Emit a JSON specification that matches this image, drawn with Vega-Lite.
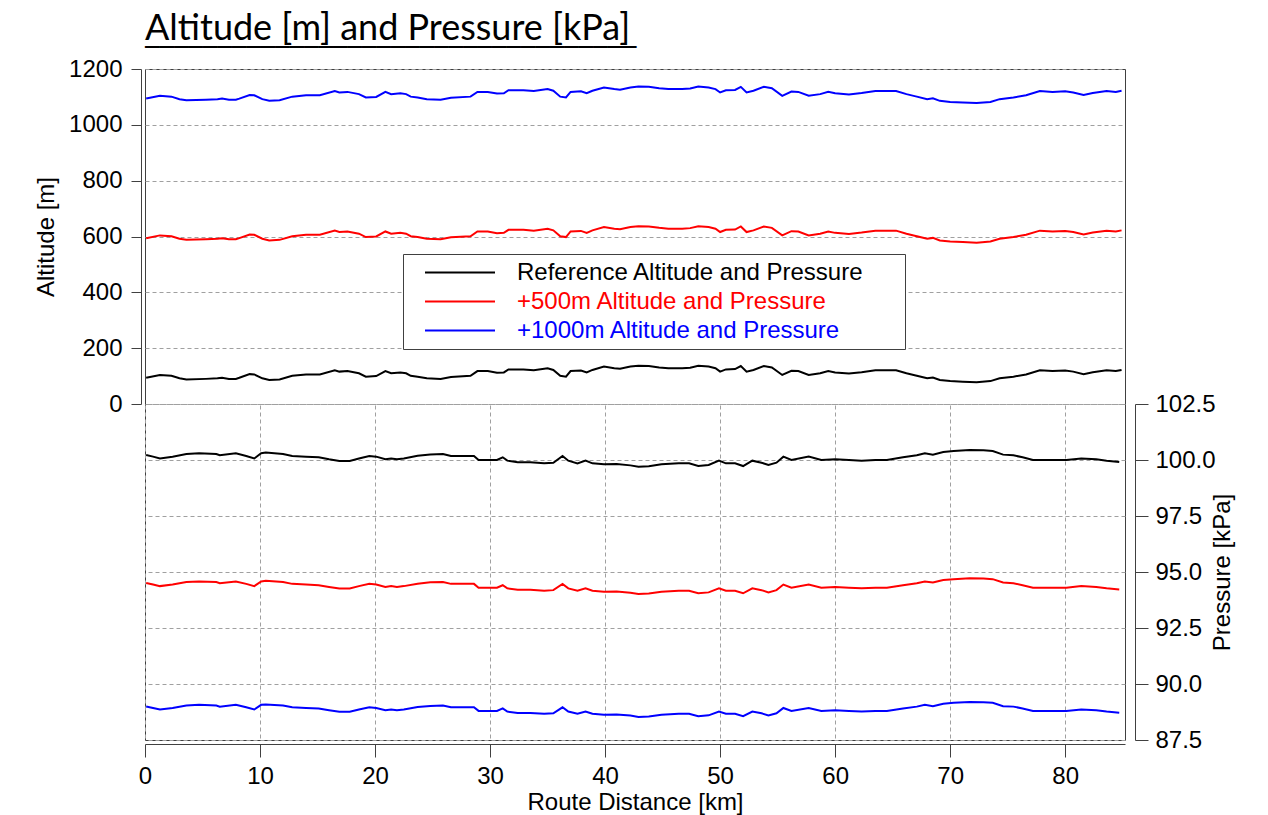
{
  "$schema": "https://vega.github.io/schema/vega-lite/v6.json",
  "autosize": {"type": "none"},
  "padding": {"left": 145, "top": 69, "right": 143, "bottom": 75},
  "width": 980,
  "height": 671,
  "background": "white",
  "title": {
    "text": "Altitude [m] and Pressure [kPa]",
    "subtitle": "──────────────────────────────────",
    "anchor": "start",
    "frame": "group",
    "font": "Lato",
    "fontSize": 36,
    "fontWeight": "normal",
    "color": "#000000",
    "subtitleFont": "DejaVu Sans Mono",
    "subtitleFontSize": 24,
    "subtitleColor": "#000000",
    "subtitlePadding": -21,
    "baseline": "alphabetic",
    "offset": 18,
    "dy": 50
  },
  "datasets": {
    "alt": [
      {"x":0.1,"R":94,"A":594,"B":1094},{"x":1.3,"R":104,"A":604,"B":1104},{"x":2.3,"R":101,"A":601,"B":1101},
      {"x":3.0,"R":92,"A":592,"B":1092},{"x":3.6,"R":88,"A":588,"B":1088},{"x":5.3,"R":90,"A":590,"B":1090},
      {"x":6.3,"R":92,"A":592,"B":1092},{"x":6.7,"R":94,"A":594,"B":1094},{"x":7.3,"R":90,"A":590,"B":1090},
      {"x":7.9,"R":90,"A":590,"B":1090},{"x":8.2,"R":94,"A":594,"B":1094},{"x":9.1,"R":107,"A":607,"B":1107},
      {"x":9.5,"R":106,"A":606,"B":1106},{"x":10.2,"R":92,"A":592,"B":1092},{"x":10.8,"R":86,"A":586,"B":1086},
      {"x":11.7,"R":88,"A":588,"B":1088},{"x":12.8,"R":101,"A":601,"B":1101},{"x":14.0,"R":106,"A":606,"B":1106},
      {"x":15.2,"R":106,"A":606,"B":1106},{"x":16.5,"R":121,"A":621,"B":1121},{"x":16.9,"R":116,"A":616,"B":1116},
      {"x":17.6,"R":118,"A":618,"B":1118},{"x":18.6,"R":110,"A":610,"B":1110},{"x":19.2,"R":98,"A":598,"B":1098},
      {"x":20.1,"R":100,"A":600,"B":1100},{"x":20.9,"R":118,"A":618,"B":1118},{"x":21.4,"R":110,"A":610,"B":1110},
      {"x":22.2,"R":113,"A":613,"B":1113},{"x":22.7,"R":110,"A":610,"B":1110},{"x":23.1,"R":101,"A":601,"B":1101},
      {"x":23.7,"R":98,"A":598,"B":1098},{"x":24.5,"R":92,"A":592,"B":1092},{"x":25.7,"R":90,"A":590,"B":1090},
      {"x":26.6,"R":97,"A":597,"B":1097},{"x":28.3,"R":101,"A":601,"B":1101},{"x":28.9,"R":118,"A":618,"B":1118},
      {"x":29.8,"R":118,"A":618,"B":1118},{"x":30.6,"R":112,"A":612,"B":1112},{"x":31.2,"R":113,"A":613,"B":1113},
      {"x":31.6,"R":124,"A":624,"B":1124},{"x":32.9,"R":124,"A":624,"B":1124},{"x":33.8,"R":121,"A":621,"B":1121},
      {"x":35.0,"R":128,"A":628,"B":1128},{"x":35.5,"R":122,"A":622,"B":1122},{"x":36.1,"R":101,"A":601,"B":1101},
      {"x":36.6,"R":98,"A":598,"B":1098},{"x":37.0,"R":118,"A":618,"B":1118},{"x":37.9,"R":120,"A":620,"B":1120},
      {"x":38.4,"R":113,"A":613,"B":1113},{"x":38.9,"R":122,"A":622,"B":1122},{"x":39.9,"R":134,"A":634,"B":1134},
      {"x":40.8,"R":128,"A":628,"B":1128},{"x":41.3,"R":126,"A":626,"B":1126},{"x":42.2,"R":134,"A":634,"B":1134},
      {"x":42.9,"R":137,"A":637,"B":1137},{"x":43.8,"R":136,"A":636,"B":1136},{"x":44.7,"R":131,"A":631,"B":1131},
      {"x":45.5,"R":128,"A":628,"B":1128},{"x":46.7,"R":128,"A":628,"B":1128},{"x":47.4,"R":130,"A":630,"B":1130},
      {"x":48.1,"R":137,"A":637,"B":1137},{"x":49.0,"R":134,"A":634,"B":1134},{"x":49.6,"R":128,"A":628,"B":1128},
      {"x":50.0,"R":116,"A":616,"B":1116},{"x":50.5,"R":124,"A":624,"B":1124},{"x":51.3,"R":125,"A":625,"B":1125},
      {"x":51.8,"R":136,"A":636,"B":1136},{"x":52.3,"R":116,"A":616,"B":1116},{"x":52.9,"R":122,"A":622,"B":1122},
      {"x":53.8,"R":136,"A":636,"B":1136},{"x":54.5,"R":131,"A":631,"B":1131},{"x":55.4,"R":104,"A":604,"B":1104},
      {"x":56.2,"R":119,"A":619,"B":1119},{"x":56.8,"R":118,"A":618,"B":1118},{"x":57.7,"R":104,"A":604,"B":1104},
      {"x":58.7,"R":110,"A":610,"B":1110},{"x":59.4,"R":118,"A":618,"B":1118},{"x":60.0,"R":113,"A":613,"B":1113},
      {"x":61.2,"R":109,"A":609,"B":1109},{"x":62.3,"R":114,"A":614,"B":1114},{"x":63.5,"R":121,"A":621,"B":1121},
      {"x":65.3,"R":121,"A":621,"B":1121},{"x":66.2,"R":110,"A":610,"B":1110},{"x":67.1,"R":101,"A":601,"B":1101},
      {"x":68.0,"R":92,"A":592,"B":1092},{"x":68.5,"R":95,"A":595,"B":1095},{"x":69.1,"R":86,"A":586,"B":1086},
      {"x":70.0,"R":82,"A":582,"B":1082},{"x":71.1,"R":80,"A":580,"B":1080},{"x":72.3,"R":78,"A":578,"B":1078},
      {"x":73.5,"R":82,"A":582,"B":1082},{"x":74.3,"R":92,"A":592,"B":1092},{"x":75.5,"R":98,"A":598,"B":1098},
      {"x":76.6,"R":106,"A":606,"B":1106},{"x":77.8,"R":121,"A":621,"B":1121},{"x":78.9,"R":118,"A":618,"B":1118},
      {"x":80.0,"R":120,"A":620,"B":1120},{"x":80.7,"R":116,"A":616,"B":1116},{"x":81.6,"R":107,"A":607,"B":1107},
      {"x":82.4,"R":114,"A":614,"B":1114},{"x":83.6,"R":121,"A":621,"B":1121},{"x":84.4,"R":118,"A":618,"B":1118},
      {"x":84.9,"R":122,"A":622,"B":1122}
    ],
    "pres": [
      {"x":0.1,"R":100.22,"A":94.51,"B":89.00},{"x":0.7,"R":100.15,"A":94.44,"B":88.93},{"x":1.3,"R":100.07,"A":94.37,"B":88.86},
      {"x":2.4,"R":100.15,"A":94.44,"B":88.93},{"x":3.6,"R":100.27,"A":94.55,"B":89.04},{"x":4.7,"R":100.3,"A":94.58,"B":89.07},
      {"x":6.2,"R":100.27,"A":94.55,"B":89.04},{"x":6.5,"R":100.21,"A":94.50,"B":88.99},{"x":7.9,"R":100.3,"A":94.58,"B":89.07},
      {"x":8.8,"R":100.18,"A":94.47,"B":88.96},{"x":9.5,"R":100.07,"A":94.37,"B":88.86},{"x":10.1,"R":100.3,"A":94.58,"B":89.07},
      {"x":10.5,"R":100.33,"A":94.61,"B":89.09},{"x":12.0,"R":100.27,"A":94.55,"B":89.04},{"x":12.8,"R":100.18,"A":94.47,"B":88.96},
      {"x":14.0,"R":100.15,"A":94.44,"B":88.93},{"x":15.1,"R":100.12,"A":94.41,"B":88.91},{"x":16.0,"R":100.03,"A":94.33,"B":88.83},
      {"x":16.9,"R":99.96,"A":94.26,"B":88.76},{"x":17.8,"R":99.96,"A":94.26,"B":88.76},{"x":18.6,"R":100.07,"A":94.37,"B":88.86},
      {"x":19.5,"R":100.18,"A":94.47,"B":88.96},{"x":20.1,"R":100.15,"A":94.44,"B":88.93},{"x":20.9,"R":100.03,"A":94.33,"B":88.83},
      {"x":21.4,"R":100.07,"A":94.37,"B":88.86},{"x":21.9,"R":100.03,"A":94.33,"B":88.83},{"x":22.5,"R":100.07,"A":94.37,"B":88.86},
      {"x":23.7,"R":100.19,"A":94.48,"B":88.97},{"x":24.8,"R":100.25,"A":94.54,"B":89.02},{"x":25.9,"R":100.27,"A":94.55,"B":89.04},
      {"x":26.6,"R":100.18,"A":94.47,"B":88.96},{"x":28.6,"R":100.18,"A":94.47,"B":88.96},{"x":29.0,"R":100.0,"A":94.30,"B":88.80},
      {"x":30.6,"R":100.0,"A":94.30,"B":88.80},{"x":31.1,"R":100.12,"A":94.41,"B":88.91},{"x":31.5,"R":99.97,"A":94.27,"B":88.77},
      {"x":32.4,"R":99.9,"A":94.21,"B":88.71},{"x":33.5,"R":99.9,"A":94.21,"B":88.71},{"x":34.7,"R":99.85,"A":94.16,"B":88.67},
      {"x":35.5,"R":99.88,"A":94.19,"B":88.69},{"x":36.3,"R":100.18,"A":94.47,"B":88.96},{"x":36.8,"R":99.97,"A":94.27,"B":88.77},
      {"x":37.6,"R":99.85,"A":94.16,"B":88.67},{"x":38.3,"R":99.97,"A":94.27,"B":88.77},{"x":38.9,"R":99.85,"A":94.16,"B":88.67},
      {"x":39.9,"R":99.81,"A":94.12,"B":88.63},{"x":41.0,"R":99.82,"A":94.13,"B":88.64},{"x":42.2,"R":99.76,"A":94.07,"B":88.59},
      {"x":42.9,"R":99.7,"A":94.02,"B":88.53},{"x":43.8,"R":99.72,"A":94.04,"B":88.55},{"x":44.9,"R":99.81,"A":94.12,"B":88.63},
      {"x":46.4,"R":99.85,"A":94.16,"B":88.67},{"x":47.3,"R":99.85,"A":94.16,"B":88.67},{"x":48.1,"R":99.73,"A":94.05,"B":88.56},
      {"x":49.0,"R":99.78,"A":94.09,"B":88.60},{"x":49.9,"R":99.97,"A":94.27,"B":88.77},{"x":50.5,"R":99.85,"A":94.16,"B":88.67},
      {"x":51.3,"R":99.85,"A":94.16,"B":88.67},{"x":52.0,"R":99.73,"A":94.05,"B":88.56},{"x":52.8,"R":99.97,"A":94.27,"B":88.77},
      {"x":53.6,"R":99.88,"A":94.19,"B":88.69},{"x":54.2,"R":99.78,"A":94.09,"B":88.60},{"x":54.9,"R":99.88,"A":94.19,"B":88.69},
      {"x":55.5,"R":100.15,"A":94.44,"B":88.93},{"x":56.2,"R":100.0,"A":94.30,"B":88.80},{"x":57.7,"R":100.15,"A":94.44,"B":88.93},
      {"x":58.8,"R":100.0,"A":94.30,"B":88.80},{"x":60.0,"R":100.03,"A":94.33,"B":88.83},{"x":61.2,"R":100.0,"A":94.30,"B":88.80},
      {"x":62.3,"R":99.97,"A":94.27,"B":88.77},{"x":63.5,"R":100.0,"A":94.30,"B":88.80},{"x":64.5,"R":100.0,"A":94.30,"B":88.80},
      {"x":65.9,"R":100.12,"A":94.41,"B":88.91},{"x":67.1,"R":100.21,"A":94.50,"B":88.99},{"x":67.8,"R":100.3,"A":94.58,"B":89.07},
      {"x":68.5,"R":100.24,"A":94.53,"B":89.01},{"x":69.4,"R":100.36,"A":94.64,"B":89.12},{"x":70.3,"R":100.4,"A":94.68,"B":89.16},
      {"x":71.7,"R":100.45,"A":94.72,"B":89.20},{"x":72.9,"R":100.43,"A":94.71,"B":89.18},{"x":73.7,"R":100.4,"A":94.68,"B":89.16},
      {"x":74.6,"R":100.24,"A":94.53,"B":89.01},{"x":75.5,"R":100.21,"A":94.50,"B":88.99},{"x":76.3,"R":100.12,"A":94.41,"B":88.91},
      {"x":77.2,"R":100.0,"A":94.30,"B":88.80},{"x":78.7,"R":100.0,"A":94.30,"B":88.80},{"x":80.1,"R":100.0,"A":94.30,"B":88.80},
      {"x":81.4,"R":100.07,"A":94.37,"B":88.86},{"x":82.7,"R":100.03,"A":94.33,"B":88.83},{"x":83.6,"R":99.97,"A":94.27,"B":88.77},
      {"x":84.7,"R":99.91,"A":94.22,"B":88.72}
    ]
  },
  "layer": [
    {
      "data": {"name": "alt"},
      "transform": [{"fold": ["R", "A", "B"], "as": ["s", "v"]}],
      "mark": {"type": "line", "strokeWidth": 2},
      "encoding": {
        "x": {
          "field": "x", "type": "quantitative",
          "scale": {"domain": [0, 85.2], "nice": false, "zero": false},
          "axis": {
            "values": [0, 10, 20, 30, 40, 50, 60, 70, 80],
            "title": "Route Distance [km]",
            "offset": 4, "tickSize": 13, "labelPadding": 7, "titlePadding": 2,
            "grid": true
          }
        },
        "y": {
          "field": "v", "type": "quantitative",
          "scale": {"domain": [0, 1200], "range": [335, 0], "nice": false, "zero": false},
          "axis": {
            "orient": "left",
            "values": [0, 200, 400, 600, 800, 1000, 1200],
            "format": "d",
            "title": "Altitude [m]",
            "offset": 4, "tickSize": 10, "labelPadding": 9, "titlePadding": 10,
            "grid": true
          }
        },
        "color": {
          "field": "s", "type": "nominal",
          "scale": {"domain": ["R", "A", "B"], "range": ["#000000", "#ff0000", "#0000ff"]},
          "legend": {
            "orient": "none",
            "legendX": 258,
            "legendY": 185,
            "title": null,
            "labelExpr": "datum.value == 'R' ? 'Reference Altitude and Pressure\u2800\u2800' : datum.value == 'A' ? '+500m Altitude and Pressure' : '+1000m Altitude and Pressure'",
            "fillColor": "#ffffff",
            "strokeColor": "#404040",
            "padding": 5,
            "symbolType": "stroke",
            "symbolSize": 4900,
            "symbolStrokeWidth": 2,
            "symbolOffset": 16,
            "clipHeight": 27,
            "rowPadding": 2,
            "labelOffset": 21,
            "labelFont": "Liberation Sans",
            "labelFontSize": 24,
            "labelLimit": 0,
            "encode": {"labels": {"update": {"fill": {"scale": "color", "field": "value"}}}}
          }
        }
      }
    },
    {
      "data": {"name": "pres"},
      "transform": [{"fold": ["R", "A", "B"], "as": ["s", "v"]}],
      "mark": {"type": "line", "strokeWidth": 2},
      "encoding": {
        "x": {"field": "x", "type": "quantitative"},
        "y": {
          "field": "v", "type": "quantitative",
          "scale": {"domain": [87.5, 102.5], "range": [671, 335], "nice": false, "zero": false},
          "axis": {
            "orient": "right",
            "values": [87.5, 90, 92.5, 95, 97.5, 100, 102.5],
            "format": ".1f",
            "title": "Pressure [kPa]",
            "titleAngle": 270,
            "offset": 10, "tickSize": 13, "labelPadding": 7, "titlePadding": 19,
            "grid": true
          }
        },
        "color": {"field": "s", "type": "nominal"}
      }
    }
  ],
  "resolve": {"scale": {"y": "independent"}, "axis": {"y": "independent"}},
  "config": {
    "font": "Liberation Sans",
    "view": {"stroke": "#404040", "strokeWidth": 1},
    "axis": {
      "labelFont": "Liberation Sans", "labelFontSize": 24, "labelColor": "#000000",
      "titleFont": "Liberation Sans", "titleFontSize": 24, "titleFontWeight": "normal", "titleColor": "#000000",
      "domainColor": "#404040", "tickColor": "#404040",
      "gridColor": "#a0a0a0", "gridDash": [4, 3], "gridWidth": 1,
      "labelOverlap": false, "labelFlush": false, "labelBound": false
    }
  }
}
